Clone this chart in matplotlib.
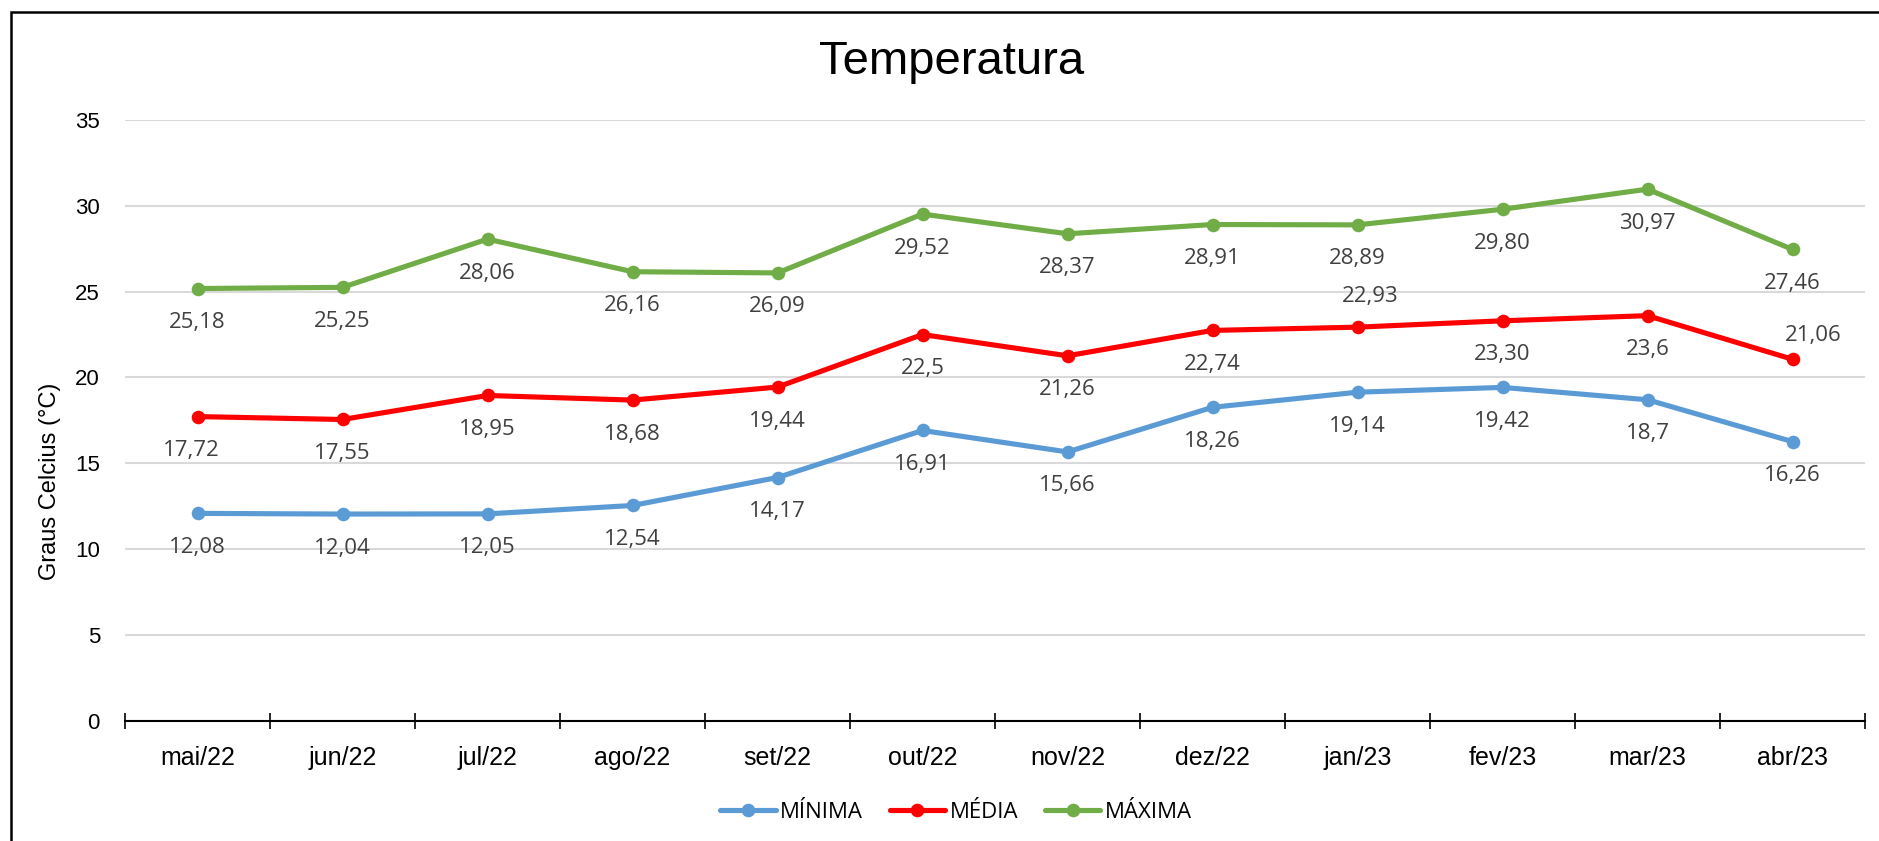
import matplotlib
matplotlib.use("Agg")
import matplotlib.pyplot as plt
from matplotlib.patches import Rectangle

W, H = 1879, 841
DPI = 100

months = ["mai/22", "jun/22", "jul/22", "ago/22", "set/22", "out/22",
          "nov/22", "dez/22", "jan/23", "fev/23", "mar/23", "abr/23"]
minima = [12.08, 12.04, 12.05, 12.54, 14.17, 16.91, 15.66, 18.26, 19.14, 19.42, 18.7, 16.26]
media = [17.72, 17.55, 18.95, 18.68, 19.44, 22.5, 21.26, 22.74, 22.93, 23.30, 23.6, 21.06]
maxima = [25.18, 25.25, 28.06, 26.16, 26.09, 29.52, 28.37, 28.91, 28.89, 29.80, 30.97, 27.46]
minima_lbl = ["12,08", "12,04", "12,05", "12,54", "14,17", "16,91", "15,66", "18,26", "19,14", "19,42", "18,7", "16,26"]
media_lbl = ["17,72", "17,55", "18,95", "18,68", "19,44", "22,5", "21,26", "22,74", "22,93", "23,30", "23,6", "21,06"]
maxima_lbl = ["25,18", "25,25", "28,06", "26,16", "26,09", "29,52", "28,37", "28,91", "28,89", "29,80", "30,97", "27,46"]
series_names = ["MÍNIMA", "MÉDIA", "MÁXIMA"]
yticks = [0, 5, 10, 15, 20, 25, 30, 35]

colors = ["#5B9BD5", "#FF0000", "#70AD47"]

# label offsets in pixels (dx, dy) -- styling only
below = (0, -34)
min_off = [below] * 12
med_off = [(-6, -34)] + [below] * 7 + [(13, 31), below, below, (21, 24)]
max_off = [below] * 12

fig = plt.figure(figsize=(W / DPI, H / DPI), dpi=DPI)
fig.patch.set_facecolor("white")

left, right = 125 / W, 1865 / W
bottom, top = 1 - 720.7 / H, 1 - 120 / H
ax = fig.add_axes([left, bottom, right - left, top - bottom])

x = list(range(len(months)))
px2pt = 72 / DPI
handles = []
for vals, lbls, offs, c, name in zip([minima, media, maxima],
                                     [minima_lbl, media_lbl, maxima_lbl],
                                     [min_off, med_off, max_off],
                                     colors, series_names):
    h, = ax.plot(x, vals, color=c, lw=3.7, marker="o", markersize=9.8,
                 markeredgewidth=0, label=name, zorder=3,
                 solid_capstyle="round", solid_joinstyle="round")
    handles.append(h)
    for xi, v, t, (dx, dy) in zip(x, vals, lbls, offs):
        ax.annotate(t, (xi, v), xytext=(dx * px2pt, dy * px2pt),
                    textcoords="offset points", ha="center", va="center",
                    fontsize=16, color="#404040", family="Open Sans", zorder=4)

ax.set_xlim(-0.5, len(months) - 0.5)
ax.set_ylim(0, 35)
ax.set_yticks(yticks)
ax.set_yticklabels([str(v) for v in yticks], fontsize=16, family="Liberation Sans")
ax.tick_params(axis="y", length=0, pad=18)
ax.yaxis.grid(True, color="#D9D9D9", lw=1.5, zorder=0)
ax.set_axisbelow(True)

ax.set_xticks([i - 0.5 for i in range(len(months) + 1)], minor=False)
ax.set_xticklabels([])
ax.set_xticks(x, minor=True)
ax.set_xticklabels(months, minor=True, fontsize=18, family="Liberation Sans")
ax.tick_params(axis="x", which="major", direction="inout", length=11.5, width=1.2, color="black")
ax.tick_params(axis="x", which="minor", length=0, pad=18)

for s in ["top", "right", "left"]:
    ax.spines[s].set_visible(False)
ax.spines["bottom"].set_color("black")
ax.spines["bottom"].set_linewidth(1.5)
ax.spines["bottom"].set_zorder(5)

fig.text(952 / W, 1 - 62 / H, "Temperatura", ha="center", va="center",
         fontsize=34, family="Liberation Sans", color="black")
fig.text(50 / W, 1 - 481 / H, "Graus Celcius (°C)", ha="center", va="center",
         rotation=90, fontsize=17, family="Liberation Sans", color="black")

leg = fig.legend(handles=handles, loc="center", bbox_to_anchor=(956 / W, 1 - 812 / H),
                 ncol=3, frameon=False, handlelength=2.5, handletextpad=0.2,
                 columnspacing=1.2, prop={"family": "Open Sans", "size": 16})
for t in leg.get_texts():
    t.set_color("black")

fig.add_artist(Rectangle((11 / W, -0.1), 1.2, 1.1 - 12 / H, transform=fig.transFigure,
                         fill=False, edgecolor="black", lw=1.8))

fig.savefig("out.png", dpi=DPI, facecolor="white")
